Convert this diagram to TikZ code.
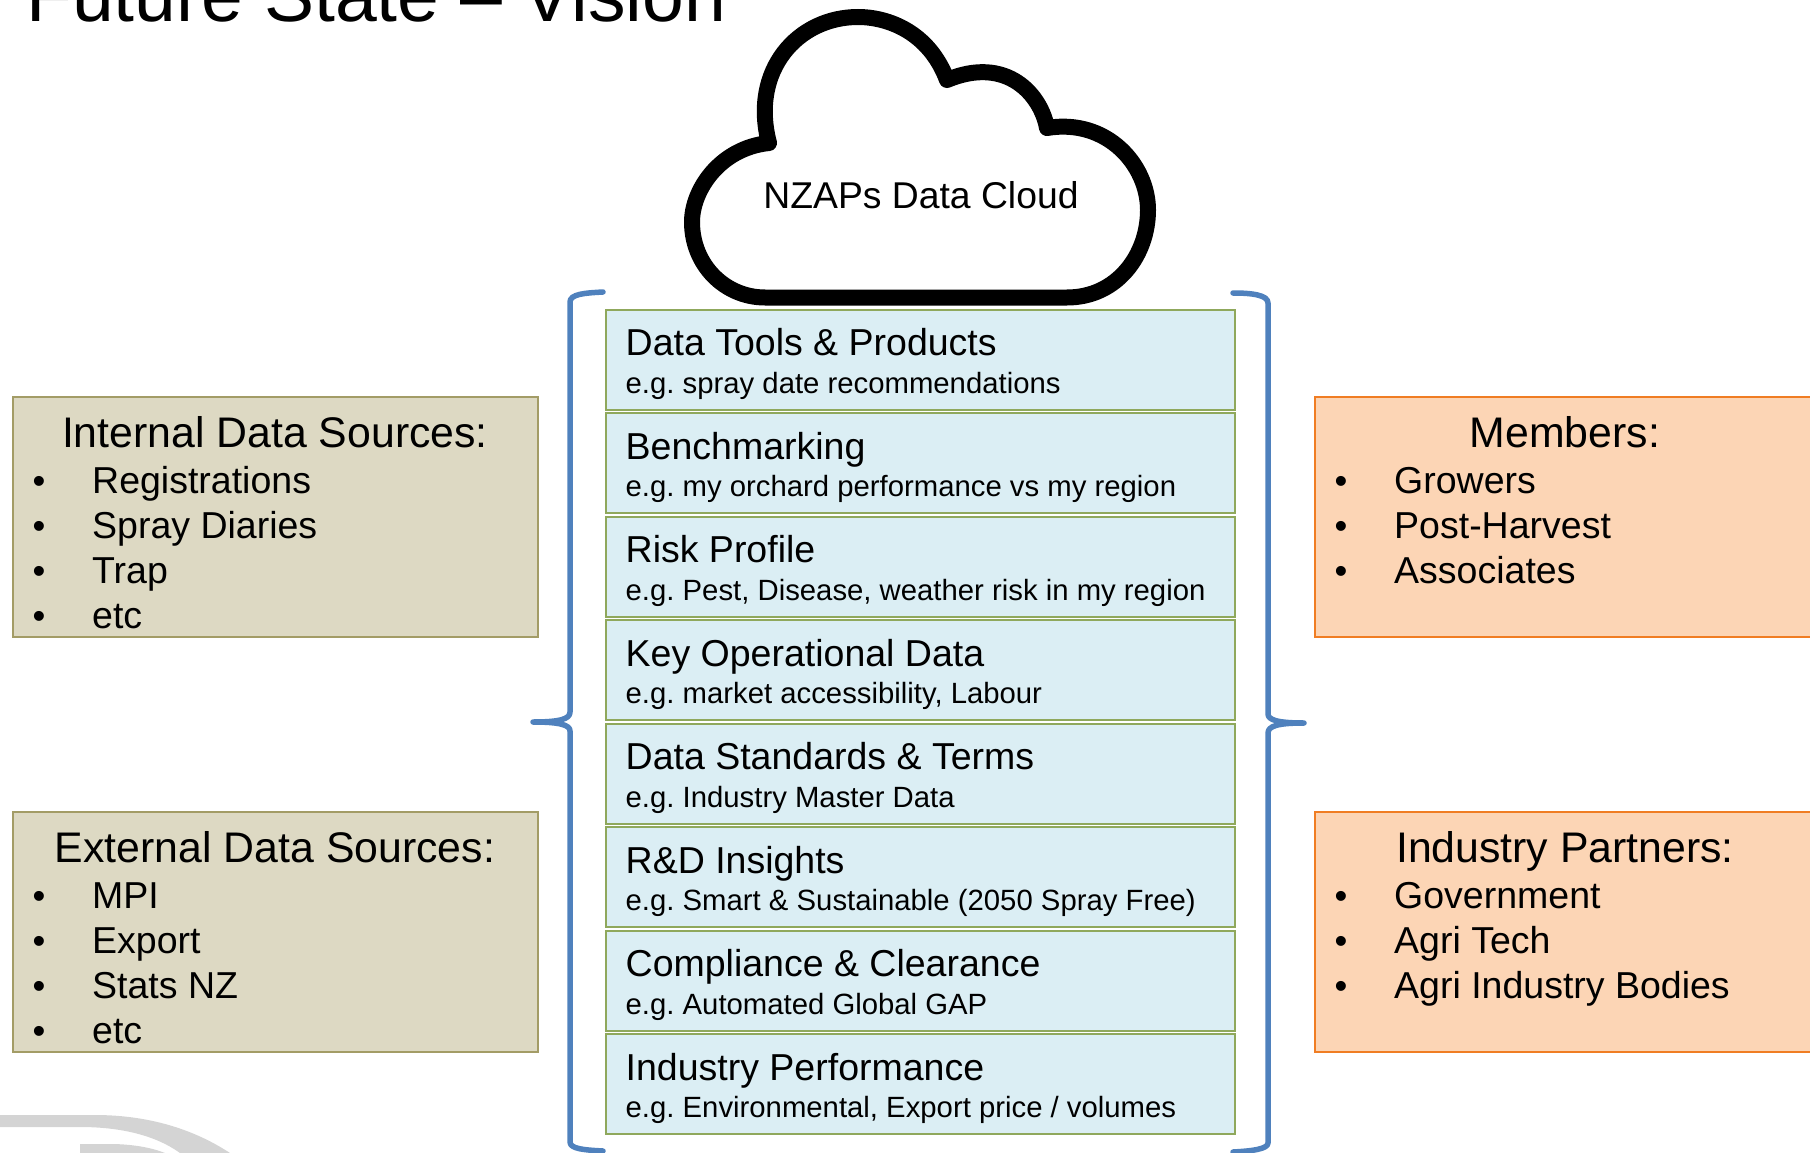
\documentclass[tikz,border=0pt]{standalone}
\usepackage{fontspec}
\setmainfont{Liberation Sans}
\definecolor{bluefill}{HTML}{DBEEF4}
\definecolor{bluedge}{HTML}{8FA85C}
\definecolor{tanfill}{HTML}{DDD9C3}
\definecolor{tanedge}{HTML}{A39C66}
\definecolor{orfill}{HTML}{FCD5B5}
\definecolor{oredge}{HTML}{F07D23}
\definecolor{bracecol}{HTML}{4F81BD}
\definecolor{wm}{HTML}{D4D4D4}
\tikzset{
  x=1pt,y=-1pt,
  rowbox/.style={draw=bluedge,fill=bluefill,line width=2.4pt,rectangle,minimum width=629pt,minimum height=100pt,anchor=north west,inner sep=0pt},
  srcbox/.style={draw=tanedge,fill=tanfill,line width=2pt,rectangle,minimum width=525pt,minimum height=240pt,anchor=north west,inner sep=0pt},
  partbox/.style={draw=oredge,fill=orfill,line width=2pt,rectangle,minimum width=526pt,minimum height=240pt,anchor=north west,inner sep=0pt},
  rowhead/.style={anchor=base west,inner sep=0pt,font=\fontsize{37.5}{37.5}\selectfont},
  rowsub/.style={anchor=base west,inner sep=0pt,font=\fontsize{29.3}{29.3}\selectfont},
  boxhead/.style={anchor=base,inner sep=0pt,font=\fontsize{42.8}{42.8}\selectfont},
  item/.style={anchor=base west,inner sep=0pt,font=\fontsize{37.5}{37.5}\selectfont},
  bul/.style={anchor=base,inner sep=0pt,font=\fontsize{36.5}{36.5}\selectfont},
  bracestyle/.style={draw=bracecol,line width=5.5pt,line cap=round,line join=round},
}
\begin{document}
\frenchspacing
\begin{tikzpicture}
\useasboundingbox (0,0) rectangle (1810,1153);
\begin{scope}
\clip (0,0) rectangle (1810,1153);
% watermark
\fill[wm] (0,1115) -- (95,1115) .. controls (150,1115) and (195,1130) .. (230,1153) -- (180,1153) .. controls (155,1135) and (120,1127) .. (80,1127) -- (0,1127) -- cycle;
\fill[wm] (80,1144) -- (110,1144) .. controls (130,1144) and (150,1147) .. (165,1153) -- (80,1153) -- cycle;
% title
\node[anchor=base west,inner sep=0pt,font=\fontsize{75.1}{75.1}\selectfont] (title) at (26,22) {Future State – Vision};
% cloud
\draw[line width=16pt,line join=round,fill=white,draw=black] (765,297.5) -- (1067,297.5)
 .. controls (1117,297.5) and (1148,255) .. (1148,210)
 .. controls (1148,165) and (1107,118) .. (1047,128)
 .. controls (1041,95) and (1007,55) .. (947,80)
 .. controls (929,32) and (888,17) .. (858,17)
 .. controls (798,17) and (750,70) .. (769,143)
 .. controls (720,148) and (692,190) .. (692,222)
 .. controls (692,265) and (725,297.5) .. (765,297.5) -- cycle;
\node[inner sep=0pt,anchor=base,font=\fontsize{37.3}{37.3}\selectfont] (cloudtext) at (921,208) {NZAPs Data Cloud};
% braces
\draw[bracestyle] (603,292) .. controls (585,293) and (570,294) .. (570,302) -- (570,712) .. controls (570,719) and (560,722) .. (533,722) .. controls (560,722) and (570,725) .. (570,731) -- (570,1142) .. controls (570,1149) and (585,1150) .. (603,1151);
\draw[bracestyle] (1233,293) .. controls (1252,293) and (1268,295) .. (1268,303) -- (1268,714) .. controls (1268,720) and (1278,723) .. (1304,723) .. controls (1278,723) and (1268,726) .. (1268,733) -- (1268,1143) .. controls (1268,1149) and (1252,1151) .. (1233,1152);
% rows
\foreach \nm/\yy/\hd/\sb in {
 r1/308.5/{Data Tools \& Products}/{e.g. spray date recommendations},
 r2/412/{Benchmarking}/{e.g. my orchard performance vs my region},
 r3/515.5/{Risk Profile}/{e.g. Pest, Disease, weather risk in my region},
 r4/619/{Key Operational Data}/{e.g. market accessibility, Labour},
 r5/722.5/{Data Standards \& Terms}/{e.g. Industry Master Data},
 r6/826/{R\&D Insights}/{e.g. Smart \& Sustainable (2050 Spray Free)},
 r7/929.5/{Compliance \& Clearance}/{e.g. Automated Global GAP},
 r8/1033/{Industry Performance}/{e.g. Environmental, Export price / volumes}}{
  \node[rowbox] (\nm) at (604.5,\yy) {};
  \node[rowhead] (\nm h) at ([shift={(21,47)}]\nm.north west) {\hd};
  \node[rowsub] (\nm s) at ([shift={(21,84.5)}]\nm.north west) {\sb};
}
% source boxes
\node[srcbox] (int) at (12,396) {};
\node[boxhead] (inth) at (275,447) {Internal Data Sources:};
\foreach \i/\tx/\yy in {a/Registrations/493,b/Spray Diaries/538,c/Trap/583,d/etc/628}{
  \node[bul] (int\i b) at (39,\yy) {•};
  \node[item] (int\i) at (92,\yy) {\tx};
}
\node[srcbox] (ext) at (12,810.5) {};
\node[boxhead] (exth) at (275,862) {External Data Sources:};
\foreach \i/\tx/\yy in {a/MPI/908,b/Export/953,c/Stats NZ/998,d/etc/1043}{
  \node[bul] (ext\i b) at (39,\yy) {•};
  \node[item] (ext\i) at (92,\yy) {\tx};
}
\node[partbox] (mem) at (1313.5,396) {};
\node[boxhead] (memh) at (1565,447) {Members:};
\foreach \i/\tx/\yy in {a/Growers/493,b/Post-Harvest/538,c/Associates/583}{
  \node[bul] (mem\i b) at (1341,\yy) {•};
  \node[item] (mem\i) at (1394,\yy) {\tx};
}
\node[partbox] (par) at (1313.5,810.5) {};
\node[boxhead] (parh) at (1565,862) {Industry Partners:};
\foreach \i/\tx/\yy in {a/Government/908,b/Agri Tech/953,c/Agri Industry Bodies/998}{
  \node[bul] (par\i b) at (1341,\yy) {•};
  \node[item] (par\i) at (1394,\yy) {\tx};
}
\end{scope}
\end{tikzpicture}
\end{document}
